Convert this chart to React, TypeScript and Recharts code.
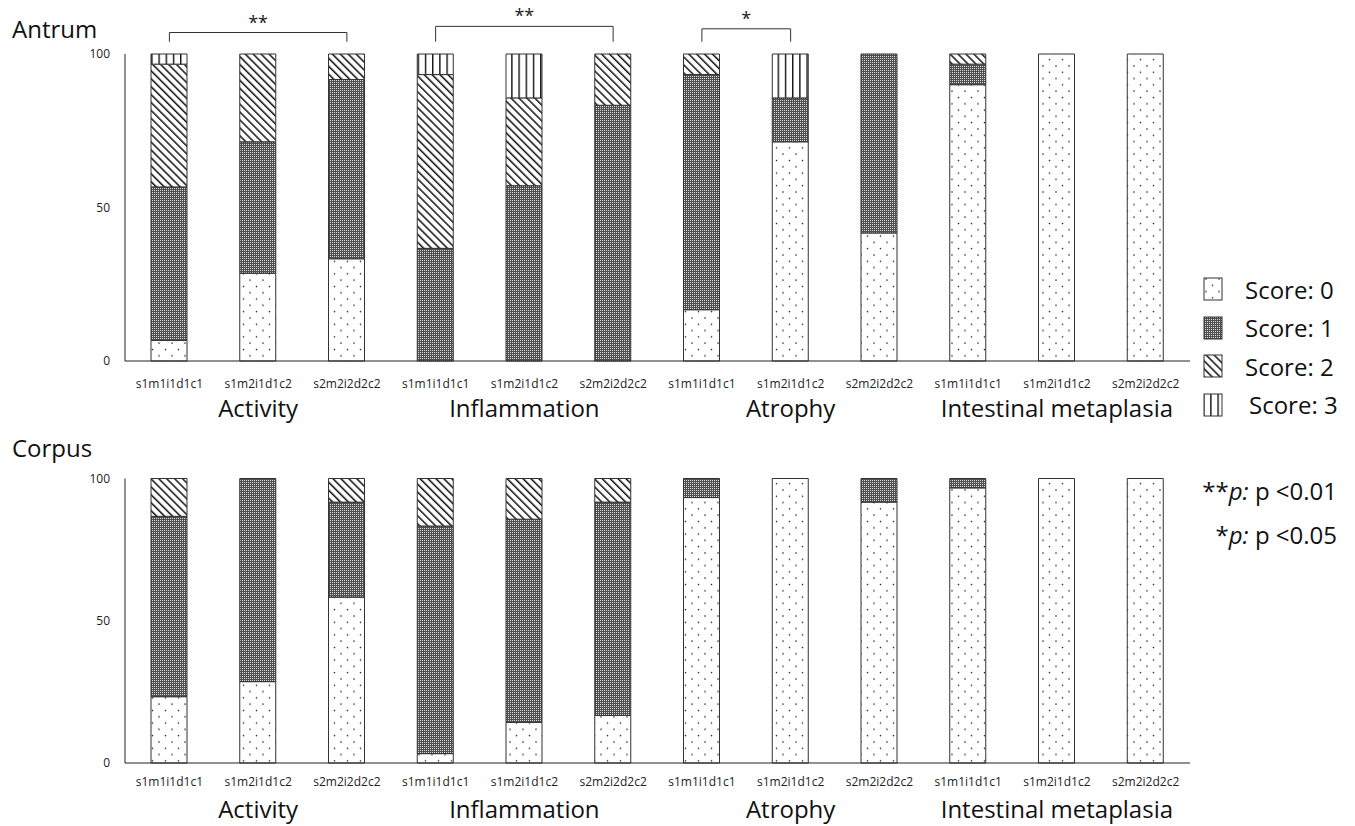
import React from 'react';
import {
    BarChart,
    Bar,
    XAxis,
    YAxis,
    Legend,
    ReferenceLine,
} from 'recharts';

const groups = ['Activity', 'Inflammation', 'Atrophy', 'Intestinal metaplasia'];
const genotypes = ['s1m1i1d1c1', 's1m2i1d1c2', 's2m2i2d2c2'];
const scoreLabels = ['Score: 0', 'Score: 1', 'Score: 2', 'Score: 3'];
const yTicks = [0, 50, 100];

// Antrum, % of patients per score
const antrumScore0 = [6.7, 28.6, 33.3, 0, 0, 0, 16.7, 71.4, 41.7, 90, 100, 100];
const antrumScore1 = [50, 42.8, 58.4, 36.7, 57.1, 83.3, 76.6, 14.3, 58.3, 6.7, 0, 0];
const antrumScore2 = [40, 28.6, 8.3, 56.6, 28.6, 16.7, 6.7, 0, 0, 3.3, 0, 0];
const antrumScore3 = [3.3, 0, 0, 6.7, 14.3, 0, 0, 14.3, 0, 0, 0, 0];

// Corpus
const corpusScore0 = [23.3, 28.6, 58.3, 3.3, 14.3, 16.7, 93.3, 100, 91.7, 96.7, 100, 100];
const corpusScore1 = [63.4, 71.4, 33.4, 80, 71.4, 75, 6.7, 0, 8.3, 3.3, 0, 0];
const corpusScore2 = [13.3, 0, 8.3, 16.7, 14.3, 8.3, 0, 0, 0, 0, 0, 0];
const corpusScore3 = [0, 0, 0, 0, 0, 0, 0, 0, 0, 0, 0, 0];

// significance brackets (bar index from / to, height in axis units)
const antrumBrackets = [
    { from: 0, to: 2, level: 107, label: '**' },
    { from: 3, to: 5, level: 109, label: '**' },
    { from: 6, to: 7, level: 108.2, label: '*' },
];
const bracketFoot = 104;

const patternIds = ['pScore0', 'pScore1', 'pScore2', 'pScore3'];
const scoreKeys = ['s0', 's1', 's2', 's3'];

const ids = groups.flatMap((g) => genotypes.map((t) => `${g}|${t}`));

function buildRows(s0: number[], s1: number[], s2: number[], s3: number[]) {
    return ids.map((id, i) => ({ id, s0: s0[i], s1: s1[i], s2: s2[i], s3: s3[i] }));
}

const antrumData = buildRows(antrumScore0, antrumScore1, antrumScore2, antrumScore3);
const corpusData = buildRows(corpusScore0, corpusScore1, corpusScore2, corpusScore3);

const FONT = '"Open Sans", sans-serif';

function Patterns() {
    return (
        <svg width={0} height={0} style={{ position: 'absolute' }}>
            <defs>
                <pattern id="pScore0" patternUnits="userSpaceOnUse" width={13} height={12.6}>
                    <rect width={13} height={12.6} fill="#fff" />
                    <circle cx={3} cy={3} r={0.8} fill="#222" />
                    <circle cx={9.5} cy={9.3} r={0.8} fill="#222" />
                </pattern>
                <pattern id="pScore1" patternUnits="userSpaceOnUse" width={2} height={2}>
                    <rect width={2} height={2} fill="#4e4e4e" />
                    <rect width={1} height={1} fill="#dcdcdc" />
                </pattern>
                <pattern
                    id="pScore2"
                    patternUnits="userSpaceOnUse"
                    width={5.6}
                    height={5.6}
                    patternTransform="rotate(-45)"
                >
                    <rect width={5.6} height={5.6} fill="#fff" />
                    <rect width={1.5} height={5.6} fill="#111" />
                </pattern>
                <pattern id="pScore3" patternUnits="userSpaceOnUse" width={7.2} height={10}>
                    <rect width={7.2} height={10} fill="#fff" />
                    <rect width={1.4} height={10} fill="#111" />
                </pattern>
            </defs>
        </svg>
    );
}

function ScoreLegend() {
    return (
        <div style={{ fontFamily: FONT }}>
            {scoreLabels.map((label, i) => (
                <div key={label} style={{ display: 'flex', alignItems: 'center', height: 38.5 }}>
                    <svg width={22} height={26}>
                        <rect x={1} y={2} width={18} height={22} fill={`url(#${patternIds[i]})`} stroke="#333" strokeWidth={1} />
                    </svg>
                    <span style={{ marginLeft: i === 3 ? 24 : 20, fontSize: 24, color: '#111' }}>{label}</span>
                </div>
            ))}
        </div>
    );
}

function StackChart({
    data,
    height,
    top,
    tickGap,
    groupGap,
    brackets,
    showLegend,
}: {
    data: typeof antrumData;
    height: number;
    top: number;
    tickGap: number;
    groupGap: number;
    brackets: typeof antrumBrackets;
    showLegend: boolean;
}) {
    return (
        <BarChart
            width={1355}
            height={height}
            data={data}
            margin={{ top, right: 165, bottom: 0, left: 85 }}
            barSize={36}
        >
            <XAxis
                dataKey="id"
                interval={0}
                height={28}
                tickLine={false}
                tickSize={6}
                tickMargin={tickGap}
                axisLine={{ stroke: '#222' }}
                tick={{ fill: '#222', fontSize: 12, fontFamily: FONT }}
                tickFormatter={(v: string) => v.split('|')[1]}
            />
            <XAxis
                dataKey="id"
                xAxisId="group"
                interval={0}
                height={37}
                axisLine={false}
                tickLine={false}
                tickSize={4}
                tickMargin={groupGap}
                tick={{ fill: '#111', fontSize: 24, fontFamily: FONT }}
                tickFormatter={(v: string, i: number) => (i % 3 === 1 ? v.split('|')[0] : '')}
            />
            <YAxis
                domain={[0, 100]}
                ticks={yTicks}
                width={40}
                tickLine={false}
                tickSize={6}
                tickMargin={9}
                axisLine={{ stroke: '#222' }}
                tick={{ fill: '#222', fontSize: 12, fontFamily: FONT }}
            />
            {scoreKeys.map((k, i) => (
                <Bar
                    key={k}
                    dataKey={k}
                    name={scoreLabels[i]}
                    stackId="a"
                    fill={`url(#${patternIds[i]})`}
                    stroke="#333"
                    strokeWidth={1}
                    isAnimationActive={false}
                />
            ))}
            {brackets.flatMap((b) => [
                <ReferenceLine
                    key={`${b.from}-l`}
                    ifOverflow="visible"
                    stroke="#333"
                    segment={[
                        { x: ids[b.from], y: bracketFoot },
                        { x: ids[b.from], y: b.level },
                    ]}
                />,
                <ReferenceLine
                    key={`${b.from}-h`}
                    ifOverflow="visible"
                    stroke="#333"
                    segment={[
                        { x: ids[b.from], y: b.level },
                        { x: ids[b.to], y: b.level },
                    ]}
                    label={{ value: b.label, position: 'top', offset: 4, fontSize: 18, fill: '#222', fontFamily: FONT }}
                />,
                <ReferenceLine
                    key={`${b.from}-r`}
                    ifOverflow="visible"
                    stroke="#333"
                    segment={[
                        { x: ids[b.to], y: bracketFoot },
                        { x: ids[b.to], y: b.level },
                    ]}
                />,
            ])}
            {showLegend && (
                <Legend
                    layout="vertical"
                    align="center"
                    verticalAlign="middle"
                    wrapperStyle={{ left: 1203, top: 270, width: 152 }}
                    content={() => <ScoreLegend />}
                />
            )}
        </BarChart>
    );
}

export default function App() {
    return (
        <div
            style={{
                position: 'absolute',
                left: 0,
                top: 0,
                width: 1355,
                height: 826,
                background: '#fff',
                overflow: 'hidden',
                fontFamily: FONT,
            }}
        >
            <Patterns />
            <div style={{ position: 'absolute', left: 12, top: 12, fontSize: 24, color: '#111' }}>Antrum</div>
            <div style={{ position: 'absolute', left: 12, top: 431, fontSize: 24, color: '#111' }}>Corpus</div>
            <div style={{ position: 'absolute', left: 0, top: 0 }}>
                <StackChart data={antrumData} height={426} top={54} tickGap={12} groupGap={7} brackets={antrumBrackets} showLegend />
            </div>
            <div style={{ position: 'absolute', left: 0, top: 424 }}>
                <StackChart data={corpusData} height={404} top={54.5} tickGap={8} groupGap={6} brackets={[]} showLegend={false} />
            </div>
            <div style={{ position: 'absolute', right: 18, top: 474, fontSize: 24, color: '#111', textAlign: 'right' }}>
                **<i>p:</i> p &lt;0.01
            </div>
            <div style={{ position: 'absolute', right: 18, top: 518, fontSize: 24, color: '#111', textAlign: 'right' }}>
                *<i>p:</i> p &lt;0.05
            </div>
        </div>
    );
}
